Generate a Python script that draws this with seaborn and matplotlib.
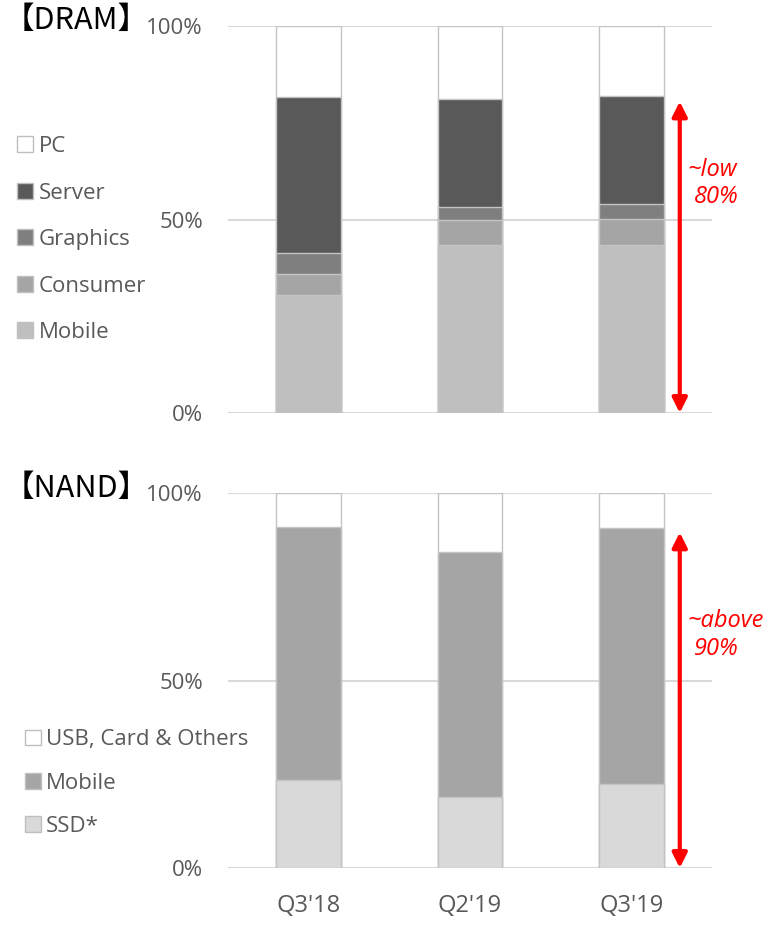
import numpy as np
import pandas as pd
import seaborn as sns
import matplotlib.pyplot as plt

# Share of each application (percent)
quarters = ["Q3'18", "Q2'19", "Q3'19"]

dram_labels = ["Mobile", "Consumer", "Graphics", "Server", "PC"]
dram_mobile = [30.6, 43.5, 43.4]
dram_consumer = [5.4, 6.3, 6.8]
dram_graphics = [5.3, 3.4, 3.7]
dram_server = [40.4, 27.9, 28.0]
dram_pc = [18.3, 18.9, 18.1]

nand_labels = ["SSD*", "Mobile", "USB, Card & Others"]
nand_ssd = [23.5, 19.0, 22.4]
nand_mobile = [67.5, 65.2, 68.2]
nand_other = [9.0, 15.8, 9.4]

dram_colors = ["#bfbfbf", "#a5a5a5", "#7f7f7f", "#595959", "#ffffff"]
nand_colors = ["#d9d9d9", "#a5a5a5", "#ffffff"]

sns.set_theme(style="white")
plt.rcParams["font.family"] = ["Open Sans", "Noto Sans CJK KR", "DejaVu Sans"]

GRAY = "#595959"
GRID = "#d9d9d9"

fig = plt.figure(figsize=(7.71, 9.25), dpi=100)
ax_d = fig.add_axes([0.2957, 0.5535, 0.6278, 0.4184])
ax_n = fig.add_axes([0.2957, 0.0616, 0.6278, 0.4054])


def stacked(ax, labels, series, colors):
    df = pd.DataFrame(np.array(series).T, columns=labels)
    df["quarter"] = quarters
    tops = df[labels].cumsum(axis=1)
    handles = []
    # draw tallest cumulative first so lower segments sit on top
    for lab, col in reversed(list(zip(labels, colors))):
        d = pd.DataFrame({"quarter": quarters, "top": tops[lab].values})
        sns.barplot(data=d, x="quarter", y="top", color=col, saturation=1,
                    width=0.4, errorbar=None, edgecolor="#c4c4c4",
                    linewidth=1.0, ax=ax, zorder=3)
        handles.append(plt.Rectangle((0, 0), 1, 1, facecolor=col,
                                     edgecolor="#bfbfbf", linewidth=1.0))
    ax.set_ylim(0, 100)
    ax.set_xlim(-0.5, 2.5)
    ax.set_yticks([0, 50, 100])
    ax.set_yticklabels(["0%", "50%", "100%"])
    for v in [0, 50, 100]:
        ax.axhline(v, color=GRID, lw=1.5, zorder=1)
    for s in ax.spines.values():
        s.set_visible(False)
    ax.tick_params(axis="y", length=0, pad=18, labelsize=16, labelcolor=GRAY)
    ax.tick_params(axis="x", length=0, pad=19, labelsize=17, labelcolor=GRAY)
    ax.set_xlabel("")
    ax.set_ylabel("")
    return handles, list(reversed(labels))


h, l = stacked(ax_d, dram_labels,
               [dram_mobile, dram_consumer, dram_graphics, dram_server, dram_pc],
               dram_colors)
ax_d.set_xticklabels([])
fig.legend(h, l, loc="center left", bbox_to_anchor=(0.022, 0.741),
           frameon=False, fontsize=16, labelcolor=GRAY, handlelength=0.72,
           handleheight=0.72, handletextpad=0.25, labelspacing=1.15,
           borderaxespad=0, borderpad=0)

h, l = stacked(ax_n, nand_labels, [nand_ssd, nand_mobile, nand_other],
               nand_colors)
fig.legend(h, l, loc="center left", bbox_to_anchor=(0.032, 0.1535),
           frameon=False, fontsize=16, labelcolor=GRAY, handlelength=0.72,
           handleheight=0.72, handletextpad=0.25, labelspacing=1.0,
           borderaxespad=0, borderpad=0)

title_font = ["Noto Sans CJK KR", "DejaVu Sans"]
fig.text(0.005, 0.978, "【DRAM】", fontsize=22, color="black", va="center",
         family=title_font)
fig.text(0.005, 0.4715, "【NAND】", fontsize=22, color="black", va="center",
         family=title_font)

# red range arrows and notes
arrow = dict(arrowstyle="<|-|>", color="red", lw=3, mutation_scale=22,
             shrinkA=0, shrinkB=0)
note = dict(color="red", style="italic", fontsize=17, va="center",
            ha="left", clip_on=False, family=["Open Sans", "DejaVu Sans"])
ax_d.annotate("", xy=(2.30, 80.5), xytext=(2.30, 0), arrowprops=arrow,
              annotation_clip=False, zorder=5)
ax_d.text(2.35, 62.8, "~low", **note)
ax_d.text(2.39, 55.8, "80%", **note)

ax_n.annotate("", xy=(2.30, 89.5), xytext=(2.30, 0), arrowprops=arrow,
              annotation_clip=False, zorder=5)
ax_n.text(2.35, 65.9, "~above", **note)
ax_n.text(2.39, 58.4, "90%", **note)

fig.savefig("out.png", dpi=100)
